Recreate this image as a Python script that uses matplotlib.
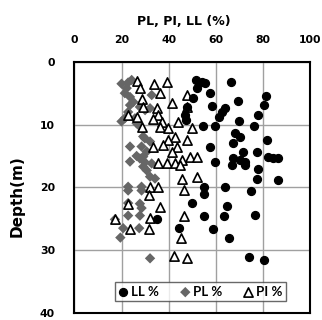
import matplotlib
matplotlib.use('Agg')
import matplotlib.pyplot as plt

# liquid limit (%) vs depth (m)
ll_val = [51.6, 54.0, 55.4, 51.9, 66.3, 57.5, 81.5, 50.5, 69.6, 80.5, 58.5, 47.6,
          63.8, 62.8, 61.5, 77.8, 46.9, 47.3, 70.0, 59.7, 54.7, 76.2, 68.2, 70.3,
          81.6, 67.2, 57.5, 71.7, 77.4, 82.3, 84.4, 86.5, 67.4, 70.3, 72.4, 59.7,
          66.8, 72.4, 78.0, 77.4, 86.5, 55.0, 63.9, 74.8, 55.0, 49.8, 64.9, 55.0,
          63.5, 76.6, 58.9, 65.6, 74.0, 80.5, 35.0, 44.3]
ll_depth = [2.9, 3.3, 3.4, 4.2, 3.3, 5.0, 5.4, 5.8, 6.3, 6.9, 7.0, 7.2,
            7.3, 8.0, 8.8, 8.5, 8.5, 9.3, 9.4, 10.3, 10.3, 10.3, 11.4, 12.0,
            12.5, 13.0, 13.5, 14.3, 14.3, 15.1, 15.3, 15.4, 15.4, 15.7, 16.0, 16.0,
            16.5, 16.5, 17.0, 18.6, 18.8, 20.0, 20.0, 20.5, 21.1, 22.5, 23.0, 24.6,
            24.6, 24.4, 26.7, 28.0, 31.1, 31.5, 25.0, 26.5]

# plastic limit (%)
pl_val = [20.0, 22.8, 24.3, 22.2, 21.4, 23.6, 32.8, 25.0, 23.6, 27.8, 32.1, 30.0,
          22.8, 21.4, 25.7, 20.0, 26.4, 27.8, 29.2, 29.9, 32.1, 23.6, 28.5, 30.7,
          26.4, 27.8, 29.2, 23.6, 29.9, 32.8, 29.2, 30.7, 32.1, 34.2, 22.8, 28.5,
          22.8, 28.5, 22.8, 27.8, 28.5, 22.8, 27.8, 17.2, 20.7, 27.5, 19.5, 32.1]
pl_depth = [3.5, 3.3, 2.9, 4.2, 5.0, 5.6, 5.3, 6.4, 6.9, 7.2, 7.4, 7.7,
            8.0, 9.0, 9.0, 9.5, 9.8, 10.3, 11.9, 12.2, 12.7, 13.5, 13.5, 14.3,
            15.0, 15.4, 15.1, 15.9, 16.0, 16.2, 16.7, 17.3, 18.3, 18.6, 19.9, 19.9,
            20.5, 20.5, 22.5, 22.6, 23.3, 24.5, 24.5, 25.1, 26.5, 26.5, 28.0, 31.3]

# plasticity index (%)
pi_val = [26.6, 33.8, 39.5, 28.0, 36.3, 47.9, 28.5, 41.5, 29.2, 34.9, 47.6, 22.8,
          26.4, 35.6, 33.5, 37.0, 44.1, 28.5, 36.3, 39.8, 49.8, 42.7, 47.9, 39.8,
          33.5, 37.7, 43.4, 41.3, 49.0, 51.9, 45.5, 35.6, 39.1, 42.7, 44.8, 51.9,
          45.5, 32.1, 35.6, 46.5, 31.6, 22.8, 36.3, 32.1, 46.5, 17.2, 23.7, 31.6,
          45.2, 42.3, 47.6]
pi_depth = [3.0, 3.6, 3.3, 4.2, 5.0, 5.3, 6.0, 6.5, 7.2, 7.3, 7.2, 8.4,
            8.8, 8.5, 9.1, 9.6, 9.6, 10.4, 10.4, 10.6, 10.6, 12.0, 12.5, 12.5,
            13.5, 13.3, 13.5, 14.3, 15.1, 15.1, 15.7, 16.2, 16.2, 16.2, 16.5, 18.3,
            18.6, 19.9, 20.0, 20.4, 21.2, 22.6, 23.2, 24.8, 24.6, 25.0, 26.6, 26.6,
            28.1, 31.0, 31.3]

plt.rcParams['font.family'] = ['DejaVu Sans']
plt.rcParams['font.weight'] = 'bold'

fig = plt.figure(figsize=(3.22, 3.20), dpi=100)
ax = fig.add_axes([0.231, 0.022, 0.732, 0.785])

ax.scatter(ll_val, ll_depth, s=32, marker='o', color='black', zorder=5, label='LL %')
ax.scatter(pl_val, pl_depth, s=28, marker='D', color='#666666', edgecolors='none',
           zorder=3, label='PL %')
ax.scatter(pi_val, pi_depth, s=44, marker='^', facecolors='white', edgecolors='black',
           linewidths=1.2, zorder=4, label='PI %')

ax.set_xlim(0, 100)
ax.set_ylim(40, 0)
ax.set_xticks([0, 20, 40, 60, 80, 100])
ax.set_yticks([0, 10, 20, 30, 40])
ax.xaxis.tick_top()
ax.xaxis.set_label_position('top')
ax.tick_params(length=0, labelsize=7.8)
ax.tick_params(axis='x', pad=12)
ax.tick_params(axis='y', pad=14)
ax.grid(True, color='#a0a0a0', linewidth=1)
ax.set_axisbelow(True)
for sp in ax.spines.values():
    sp.set_linewidth(1.5)

ax.set_xlabel('PL, PI, LL (%)', fontsize=9, fontweight='bold')
ax.xaxis.set_label_coords(0.463, 1.146)
ax.set_ylabel('Depth(m)', fontsize=11, fontweight='bold')
ax.yaxis.set_label_coords(-0.21, 0.466)

leg = ax.legend(loc='lower left', bbox_to_anchor=(0.172, 0.048, 0.726, 0.083),
                mode='expand', ncol=3, frameon=True, fancybox=False,
                prop={'family': 'Lato', 'weight': 'bold', 'size': 9.5},
                handlelength=0.8, handletextpad=0.2, columnspacing=0.8,
                borderpad=0.25, borderaxespad=0)
leg.get_frame().set_edgecolor('#444444')
leg.get_frame().set_linewidth(1)
leg.set_zorder(10)

fig.savefig('out.png', dpi=100)
